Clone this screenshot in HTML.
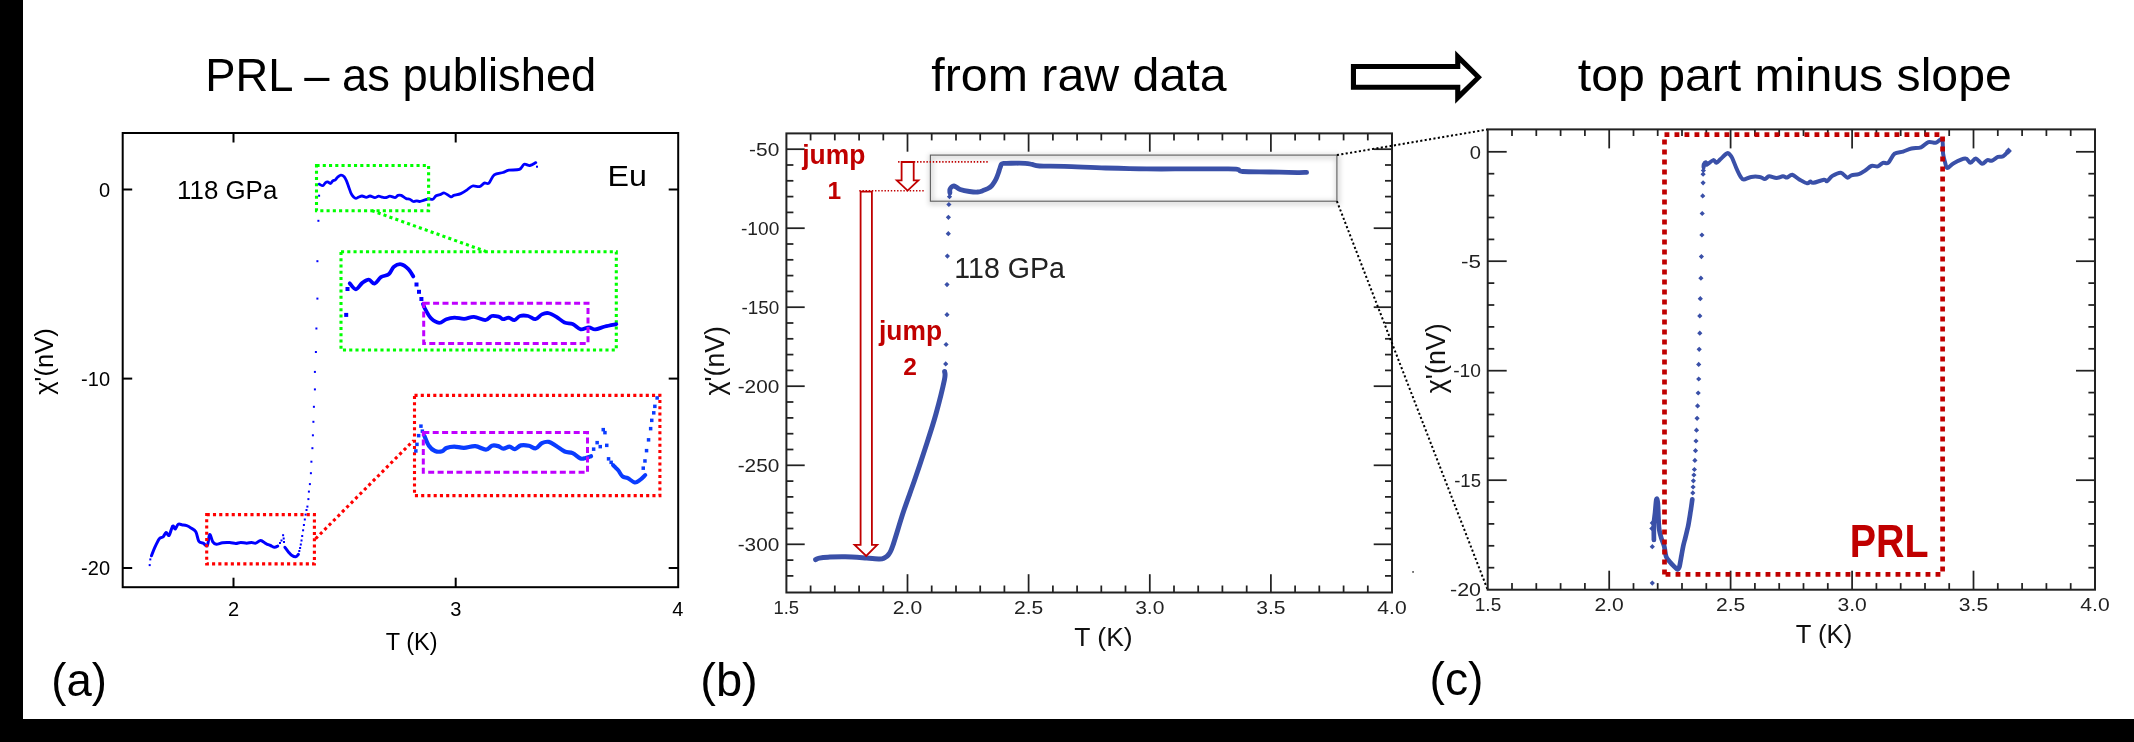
<!DOCTYPE html>
<html><head><meta charset="utf-8"><title>figure</title>
<style>html,body{margin:0;padding:0;background:#fff;}body{width:2134px;height:742px;overflow:hidden;font-family:"Liberation Sans",sans-serif;}svg{display:block;will-change:transform;}</style>
</head><body>
<svg width="2134" height="742" viewBox="0 0 2134 742" font-family="Liberation Sans, sans-serif">
<rect x="0" y="0" width="2134" height="742" fill="#fff"/>
<rect x="0" y="0" width="23" height="742" fill="#000"/>
<rect x="0" y="719" width="2134" height="23" fill="#000"/>
<text x="205.3" y="90.8" font-size="45.3" text-anchor="start" fill="#000" font-weight="normal" textLength="391.0" lengthAdjust="spacingAndGlyphs" >PRL – as published</text>
<text x="931.3" y="90.8" font-size="45.3" text-anchor="start" fill="#000" font-weight="normal" textLength="295.3" lengthAdjust="spacingAndGlyphs" >from raw data</text>
<text x="1577.8" y="91.0" font-size="45.3" text-anchor="start" fill="#000" font-weight="normal" textLength="434.0" lengthAdjust="spacingAndGlyphs" >top part minus slope</text>
<path d="M1350.9,64.05 H1455.2 V50.6 L1482,77.15 L1455.2,103.7 V89.7 H1350.9 Z" fill="#000"/>
<path d="M1356,69.1 H1460.3 V62.8 L1475.1,77.15 L1460.3,91.5 V84.7 H1356 Z" fill="#fff"/>
<text x="51.3" y="695.6" font-size="47" text-anchor="start" fill="#000" font-weight="normal" textLength="55.6" lengthAdjust="spacingAndGlyphs" >(a)</text>
<text x="700.3" y="695.6" font-size="47" text-anchor="start" fill="#000" font-weight="normal" textLength="57.5" lengthAdjust="spacingAndGlyphs" >(b)</text>
<text x="1429.5" y="695.3" font-size="47" text-anchor="start" fill="#000" font-weight="normal" textLength="54.0" lengthAdjust="spacingAndGlyphs" >(c)</text>
<rect x="122.7" y="133.0" width="555.5" height="454.2" fill="none" stroke="#000" stroke-width="2"/>
<line x1="233.5" y1="587.2" x2="233.5" y2="577.7" stroke="#000" stroke-width="2" />
<line x1="233.5" y1="133.0" x2="233.5" y2="142.5" stroke="#000" stroke-width="2" />
<line x1="455.7" y1="587.2" x2="455.7" y2="577.7" stroke="#000" stroke-width="2" />
<line x1="455.7" y1="133.0" x2="455.7" y2="142.5" stroke="#000" stroke-width="2" />
<line x1="122.7" y1="189.5" x2="132.2" y2="189.5" stroke="#000" stroke-width="2" />
<line x1="678.2" y1="189.5" x2="668.7" y2="189.5" stroke="#000" stroke-width="2" />
<line x1="122.7" y1="378.6" x2="132.2" y2="378.6" stroke="#000" stroke-width="2" />
<line x1="678.2" y1="378.6" x2="668.7" y2="378.6" stroke="#000" stroke-width="2" />
<line x1="122.7" y1="568.0" x2="132.2" y2="568.0" stroke="#000" stroke-width="2" />
<line x1="678.2" y1="568.0" x2="668.7" y2="568.0" stroke="#000" stroke-width="2" />
<text x="110.0" y="196.7" font-size="20" text-anchor="end" fill="#000" font-weight="normal" >0</text>
<text x="110.0" y="385.8" font-size="20" text-anchor="end" fill="#000" font-weight="normal" >-10</text>
<text x="110.0" y="575.2" font-size="20" text-anchor="end" fill="#000" font-weight="normal" >-20</text>
<text x="233.5" y="615.5" font-size="20" text-anchor="middle" fill="#000" font-weight="normal" >2</text>
<text x="455.7" y="615.5" font-size="20" text-anchor="middle" fill="#000" font-weight="normal" >3</text>
<text x="677.7" y="615.5" font-size="20" text-anchor="middle" fill="#000" font-weight="normal" >4</text>
<text x="411.6" y="650.4" font-size="23.5" text-anchor="middle" fill="#000" font-weight="normal" >T (K)</text>
<text transform="translate(53.2,394.8) rotate(-90)" font-size="25" textLength="66.5" lengthAdjust="spacingAndGlyphs">χ'(nV)</text>
<text x="177.0" y="199.3" font-size="25.3" text-anchor="start" fill="#000" font-weight="normal" textLength="100.3" lengthAdjust="spacingAndGlyphs" >118 GPa</text>
<text x="607.6" y="185.8" font-size="29.4" text-anchor="start" fill="#000" font-weight="normal" textLength="39.4" lengthAdjust="spacingAndGlyphs" >Eu</text>
<path d="M151.5,555.8C152.0,554.5 153.3,550.8 154.6,547.9C155.9,545.0 158.0,540.4 159.4,538.6C160.8,536.8 161.9,538.0 163.0,537.0C164.1,536.0 165.1,532.8 166.1,532.5C167.1,532.2 168.0,536.5 169.1,535.4C170.2,534.3 171.7,527.1 172.7,526.1C173.7,525.1 174.3,529.4 175.2,529.1C176.1,528.8 177.0,525.0 178.2,524.3C179.4,523.6 181.0,524.7 182.4,524.9C183.8,525.1 185.3,525.2 186.7,525.7C188.1,526.2 189.4,526.9 190.9,527.9C192.4,528.9 194.5,529.6 195.8,531.8C197.1,534.0 197.6,539.3 198.8,541.2C200.0,543.1 201.7,542.4 203.1,543.1C204.5,543.8 206.2,546.9 207.3,545.5C208.4,544.1 208.8,535.2 209.7,534.6C210.6,534.0 211.7,540.2 212.8,541.8C213.9,543.4 214.8,544.1 216.4,544.3C218.0,544.4 220.3,543.0 222.5,542.7C224.7,542.4 227.5,542.4 229.7,542.5C231.9,542.6 234.0,543.4 235.8,543.4C237.6,543.4 238.9,542.5 240.7,542.5C242.5,542.5 244.9,543.2 246.7,543.2C248.5,543.2 250.1,542.5 251.6,542.5C253.1,542.5 254.3,543.5 255.8,543.1C257.3,542.8 259.0,540.3 260.7,540.4C262.4,540.5 264.5,542.9 266.1,543.7C267.7,544.6 269.0,544.9 270.4,545.5C271.8,546.1 273.4,547.2 274.6,547.3C275.8,547.4 277.2,546.3 277.7,546.1" fill="none" stroke="#0000ff" stroke-width="3.0" stroke-linejoin="round" stroke-linecap="round" />
<rect x="148.7" y="564.1" width="2" height="2" fill="#0000ff"/>
<rect x="149.3" y="558.4" width="2" height="2" fill="#0000ff"/>
<rect x="279.0" y="542.0" width="2" height="2" fill="#0000ff"/>
<rect x="280.5" y="539.5" width="2" height="2" fill="#0000ff"/>
<rect x="282.1" y="534.2" width="2" height="2" fill="#0000ff"/>
<rect x="282.7" y="537.5" width="2" height="2" fill="#0000ff"/>
<rect x="283.0" y="541.0" width="2" height="2" fill="#0000ff"/>
<path d="M284.9,547.3C285.5,548.1 287.5,550.9 288.6,552.2C289.7,553.5 290.4,554.4 291.6,555.2C292.8,556.0 294.7,556.9 295.8,556.8C296.9,556.7 298.0,554.8 298.4,554.4" fill="none" stroke="#0000ff" stroke-width="3.0" stroke-linejoin="round" stroke-linecap="round" />
<rect x="298.3" y="550.0" width="2" height="2" fill="#0000ff"/>
<rect x="299.1" y="547.0" width="2" height="2" fill="#0000ff"/>
<rect x="299.8" y="543.5" width="2" height="2" fill="#0000ff"/>
<rect x="300.5" y="539.5" width="2" height="2" fill="#0000ff"/>
<rect x="301.2" y="535.0" width="2" height="2" fill="#0000ff"/>
<rect x="302.1" y="529.3" width="2" height="2" fill="#0000ff"/>
<rect x="302.9" y="524.0" width="2" height="2" fill="#0000ff"/>
<rect x="303.8" y="518.5" width="2" height="2" fill="#0000ff"/>
<rect x="304.6" y="513.6" width="2" height="2" fill="#0000ff"/>
<rect x="305.5" y="509.0" width="2" height="2" fill="#0000ff"/>
<rect x="306.4" y="505.6" width="2" height="2" fill="#0000ff"/>
<rect x="307.4" y="498.1" width="2" height="2" fill="#0000ff"/>
<rect x="307.9" y="490.6" width="2" height="2" fill="#0000ff"/>
<rect x="308.9" y="483.1" width="2" height="2" fill="#0000ff"/>
<rect x="309.9" y="472.2" width="2" height="2" fill="#0000ff"/>
<rect x="310.4" y="460.7" width="2" height="2" fill="#0000ff"/>
<rect x="311.4" y="447.2" width="2" height="2" fill="#0000ff"/>
<rect x="311.9" y="434.3" width="2" height="2" fill="#0000ff"/>
<rect x="312.4" y="420.8" width="2" height="2" fill="#0000ff"/>
<rect x="312.9" y="405.8" width="2" height="2" fill="#0000ff"/>
<rect x="313.9" y="388.4" width="2" height="2" fill="#0000ff"/>
<rect x="313.9" y="370.9" width="2" height="2" fill="#0000ff"/>
<rect x="314.9" y="351.0" width="2" height="2" fill="#0000ff"/>
<rect x="315.4" y="327.5" width="2" height="2" fill="#0000ff"/>
<rect x="316.4" y="297.6" width="2" height="2" fill="#0000ff"/>
<rect x="316.4" y="260.2" width="2" height="2" fill="#0000ff"/>
<rect x="317.4" y="219.8" width="2" height="2" fill="#0000ff"/>
<rect x="318.1" y="194.7" width="2" height="2" fill="#0000ff"/>
<path d="M319.2,184.2C319.8,184.4 321.9,185.9 322.9,185.7C323.9,185.5 324.5,183.4 325.3,182.8C326.1,182.2 326.7,181.8 327.6,181.9C328.5,182.0 329.6,183.7 330.5,183.5C331.4,183.3 332.0,181.5 332.8,180.9C333.6,180.3 334.4,180.6 335.2,180.0C336.0,179.4 336.6,178.0 337.5,177.2C338.4,176.4 339.7,175.2 340.8,175.1C341.9,175.0 343.2,175.7 344.2,176.7C345.1,177.7 345.7,179.1 346.5,180.9C347.3,182.7 348.1,185.4 348.9,187.5C349.7,189.6 350.4,192.1 351.2,193.7C352.0,195.3 352.8,196.2 353.6,197.0C354.4,197.8 355.0,198.4 355.9,198.4C356.8,198.4 357.8,197.4 358.8,197.0C359.8,196.6 360.9,195.9 362.1,196.0C363.4,196.1 365.0,197.3 366.3,197.3C367.6,197.3 368.7,195.9 370.1,196.0C371.5,196.1 373.4,197.6 374.8,197.6C376.2,197.6 377.3,196.3 378.6,196.2C379.9,196.1 381.1,197.0 382.4,197.2C383.6,197.4 384.9,197.7 386.1,197.5C387.4,197.3 388.4,196.2 389.9,196.2C391.4,196.2 393.8,197.7 395.1,197.6C396.4,197.5 396.9,195.8 397.9,195.4C398.9,195.0 399.9,194.9 401.2,195.4C402.5,195.9 404.5,197.8 405.9,198.4C407.3,199.1 408.4,198.8 409.7,199.3C411.0,199.8 412.3,201.2 413.5,201.5C414.7,201.8 415.8,200.8 416.8,200.8C417.8,200.8 418.4,201.6 419.6,201.5C420.9,201.4 422.8,200.5 424.3,200.1C425.8,199.7 427.2,199.0 428.6,198.9C430.0,198.8 431.6,199.8 432.8,199.3C434.1,198.8 434.8,196.6 436.1,195.8C437.4,195.0 439.4,194.9 440.8,194.4C442.2,193.9 442.7,192.6 444.4,193.0C446.1,193.4 449.3,196.4 450.9,196.8C452.5,197.2 452.1,195.9 453.8,195.4C455.5,194.9 458.7,194.5 460.8,193.6C462.9,192.7 464.8,191.4 466.7,190.1C468.6,188.8 470.4,186.6 472.5,186.0C474.6,185.4 477.7,187.1 479.6,186.6C481.6,186.1 482.6,183.7 484.2,183.1C485.8,182.5 487.2,184.5 488.9,183.1C490.6,181.7 491.8,176.7 494.2,174.9C496.6,173.1 500.6,173.3 503.0,172.5C505.4,171.7 506.1,170.7 508.8,170.2C511.5,169.7 516.9,170.4 519.4,169.4C521.9,168.4 522.4,165.0 524.1,164.3C525.9,163.7 528.0,165.8 529.9,165.5C531.8,165.2 534.8,163.1 535.8,162.6" fill="none" stroke="#0000ff" stroke-width="2.8" stroke-linejoin="round" stroke-linecap="round" />
<rect x="536.0" y="165.7" width="2" height="2" fill="#0000ff"/>
<rect x="316.5" y="165.5" width="112.1" height="45.2" fill="none" stroke="#00ff00" stroke-width="3.1" stroke-dasharray="3.1 3.15"/>
<rect x="341.0" y="251.8" width="275.3" height="98.2" fill="none" stroke="#00ff00" stroke-width="3.1" stroke-dasharray="3.1 3.15"/>
<line x1="371.8" y1="210.6" x2="486.0" y2="251.5" stroke="#00ff00" stroke-width="3.1" stroke-dasharray="3.1 3.15"/>
<path d="M349.7,283.3C350.7,284.3 353.8,289.4 355.9,289.3C358.0,289.2 360.1,284.5 362.3,282.9C364.5,281.3 366.8,279.5 368.8,279.6C370.8,279.7 372.5,284.1 374.5,283.7C376.5,283.3 378.5,278.8 380.9,277.2C383.3,275.6 386.8,275.8 389.0,274.0C391.2,272.2 391.9,268.3 393.9,266.7C395.9,265.1 398.8,263.9 401.2,264.3C403.6,264.7 406.4,267.1 408.4,269.1C410.4,271.1 412.5,275.2 413.3,276.4" fill="none" stroke="#0000ff" stroke-width="3.8" stroke-linejoin="round" stroke-linecap="round" />
<rect x="345.5" y="287.0" width="4" height="4" fill="#0000ff"/>
<rect x="344.2" y="312.9" width="4" height="4" fill="#0000ff"/>
<rect x="414.5" y="282.5" width="4" height="4" fill="#0000ff"/>
<rect x="417.0" y="289.8" width="4" height="4" fill="#0000ff"/>
<rect x="419.4" y="297.0" width="4" height="4" fill="#0000ff"/>
<path d="M423.0,304.0C423.4,304.9 424.0,307.1 425.4,309.5C426.8,311.9 428.8,316.2 431.1,318.4C433.4,320.6 436.6,322.7 439.2,322.8C441.8,322.9 443.8,320.1 446.4,319.2C448.9,318.3 451.5,317.7 454.5,317.6C457.5,317.5 461.0,318.9 464.2,318.8C467.4,318.7 470.4,316.6 473.9,316.8C477.4,317.0 482.3,320.2 485.3,320.1C488.3,320.0 489.4,316.6 491.7,316.0C494.0,315.4 497.1,316.3 499.0,316.8C500.9,317.3 501.5,319.1 503.1,319.2C504.7,319.3 506.8,317.5 508.7,317.6C510.6,317.8 512.5,320.4 514.4,320.1C516.3,319.8 517.7,316.7 520.0,316.0C522.3,315.3 525.5,315.5 528.1,316.0C530.7,316.5 533.1,319.5 535.4,319.2C537.7,318.9 539.8,315.4 541.9,314.4C544.0,313.4 545.9,312.7 548.3,313.1C550.7,313.5 553.7,315.2 556.4,316.8C559.1,318.4 561.8,321.3 564.5,322.5C567.2,323.7 569.9,323.0 572.6,324.1C575.3,325.2 578.0,328.8 580.7,329.3C583.4,329.8 586.4,327.3 588.8,327.3C591.2,327.3 592.5,329.5 595.2,329.4C597.9,329.3 601.4,327.4 604.9,326.5C608.4,325.6 614.4,324.5 616.3,324.1" fill="none" stroke="#0000ff" stroke-width="3.8" stroke-linejoin="round" stroke-linecap="round" />
<rect x="423.7" y="303.2" width="164.3" height="40.2" fill="none" stroke="#bf00ff" stroke-width="3" stroke-dasharray="6 3.4"/>
<rect x="206.7" y="514.6" width="107.7" height="49.3" fill="none" stroke="#ff0000" stroke-width="3.1" stroke-dasharray="3.1 3.15"/>
<rect x="414.5" y="395.4" width="245.4" height="100.2" fill="none" stroke="#ff0000" stroke-width="3.1" stroke-dasharray="3.1 3.15"/>
<line x1="315.6" y1="538.7" x2="413.5" y2="440.5" stroke="#ff0000" stroke-width="3.1" stroke-dasharray="3.1 3.15"/>
<rect x="414.1" y="449.2" width="3.5" height="3.5" fill="#0a3cff"/>
<rect x="415.2" y="442.6" width="3.5" height="3.5" fill="#0a3cff"/>
<rect x="416.9" y="433.9" width="3.5" height="3.5" fill="#0a3cff"/>
<rect x="419.2" y="424.4" width="3.5" height="3.5" fill="#0a3cff"/>
<rect x="420.6" y="429.4" width="3.5" height="3.5" fill="#0a3cff"/>
<path d="M424.5,436.1C425.2,437.7 427.1,443.2 428.9,445.7C430.6,448.2 432.8,450.1 435.0,451.0C437.2,451.9 440.2,451.8 442.1,451.3C444.0,450.8 444.4,448.8 446.4,448.0C448.4,447.2 451.4,446.6 454.3,446.6C457.2,446.6 460.5,447.9 464.0,447.8C467.5,447.7 471.7,445.8 475.3,446.1C478.9,446.4 483.1,449.7 485.9,449.6C488.7,449.5 490.0,446.3 492.0,445.7C494.0,445.1 496.2,445.6 498.1,446.1C500.0,446.6 501.5,448.6 503.4,448.7C505.3,448.8 507.6,446.5 509.5,446.6C511.4,446.7 512.9,449.4 514.8,449.2C516.7,449.0 518.6,446.0 520.9,445.4C523.2,444.8 526.3,445.2 528.8,445.7C531.3,446.2 533.6,448.7 535.8,448.3C538.0,447.9 539.7,444.2 541.9,443.1C544.1,442.0 546.6,441.5 548.9,441.9C551.2,442.3 553.3,444.1 555.9,445.7C558.5,447.3 561.9,450.3 564.7,451.5C567.5,452.7 570.0,451.9 572.6,453.1C575.2,454.3 578.3,457.7 580.5,458.5C582.7,459.3 584.0,458.4 585.7,458.0C587.5,457.6 590.1,456.5 591.0,456.2" fill="none" stroke="#0a3cff" stroke-width="4.2" stroke-linejoin="round" stroke-linecap="round" />
<rect x="591.9" y="447.4" width="3.5" height="3.5" fill="#0a3cff"/>
<rect x="595.4" y="440.9" width="3.5" height="3.5" fill="#0a3cff"/>
<rect x="598.5" y="444.9" width="3.5" height="3.5" fill="#0a3cff"/>
<rect x="601.5" y="427.9" width="3.5" height="3.5" fill="#0a3cff"/>
<rect x="603.2" y="430.9" width="3.5" height="3.5" fill="#0a3cff"/>
<rect x="605.0" y="443.6" width="3.5" height="3.5" fill="#0a3cff"/>
<rect x="606.8" y="457.1" width="3.5" height="3.5" fill="#0a3cff"/>
<rect x="609.4" y="460.6" width="3.5" height="3.5" fill="#0a3cff"/>
<path d="M613.0,465.0C613.3,465.3 613.7,465.8 614.6,466.7C615.5,467.6 616.9,468.6 618.2,470.2C619.5,471.8 620.9,475.1 622.5,476.4C624.1,477.7 625.8,477.1 627.8,478.1C629.8,479.1 632.8,482.2 634.8,482.5C636.8,482.8 638.4,481.1 640.1,479.9C641.9,478.7 644.4,475.9 645.3,475.1" fill="none" stroke="#0a3cff" stroke-width="4" stroke-linejoin="round" stroke-linecap="round" />
<rect x="641.5" y="466.4" width="3.5" height="3.5" fill="#0a3cff"/>
<rect x="643.2" y="459.2" width="3.5" height="3.5" fill="#0a3cff"/>
<rect x="644.8" y="448.9" width="3.5" height="3.5" fill="#0a3cff"/>
<rect x="646.8" y="438.1" width="3.5" height="3.5" fill="#0a3cff"/>
<rect x="648.9" y="426.9" width="3.5" height="3.5" fill="#0a3cff"/>
<rect x="650.0" y="418.6" width="3.5" height="3.5" fill="#0a3cff"/>
<rect x="652.0" y="411.1" width="3.5" height="3.5" fill="#0a3cff"/>
<rect x="653.1" y="404.6" width="3.5" height="3.5" fill="#0a3cff"/>
<rect x="655.4" y="396.2" width="3.5" height="3.5" fill="#0a3cff"/>
<rect x="423.3" y="432.6" width="164.2" height="39.7" fill="none" stroke="#bf00ff" stroke-width="3" stroke-dasharray="6 3.4"/>
<rect x="786.4" y="133.4" width="605.6" height="459.1" fill="none" stroke="#222" stroke-width="2"/>
<line x1="810.6" y1="592.5" x2="810.6" y2="585.5" stroke="#222" stroke-width="1.75" />
<line x1="810.6" y1="133.4" x2="810.6" y2="140.4" stroke="#222" stroke-width="1.75" />
<line x1="834.8" y1="592.5" x2="834.8" y2="585.5" stroke="#222" stroke-width="1.75" />
<line x1="834.8" y1="133.4" x2="834.8" y2="140.4" stroke="#222" stroke-width="1.75" />
<line x1="859.1" y1="592.5" x2="859.1" y2="585.5" stroke="#222" stroke-width="1.75" />
<line x1="859.1" y1="133.4" x2="859.1" y2="140.4" stroke="#222" stroke-width="1.75" />
<line x1="883.3" y1="592.5" x2="883.3" y2="585.5" stroke="#222" stroke-width="1.75" />
<line x1="883.3" y1="133.4" x2="883.3" y2="140.4" stroke="#222" stroke-width="1.75" />
<line x1="907.5" y1="592.5" x2="907.5" y2="574.2" stroke="#222" stroke-width="1.75" />
<line x1="907.5" y1="133.4" x2="907.5" y2="151.7" stroke="#222" stroke-width="1.75" />
<line x1="931.7" y1="592.5" x2="931.7" y2="585.5" stroke="#222" stroke-width="1.75" />
<line x1="931.7" y1="133.4" x2="931.7" y2="140.4" stroke="#222" stroke-width="1.75" />
<line x1="956.0" y1="592.5" x2="956.0" y2="585.5" stroke="#222" stroke-width="1.75" />
<line x1="956.0" y1="133.4" x2="956.0" y2="140.4" stroke="#222" stroke-width="1.75" />
<line x1="980.2" y1="592.5" x2="980.2" y2="585.5" stroke="#222" stroke-width="1.75" />
<line x1="980.2" y1="133.4" x2="980.2" y2="140.4" stroke="#222" stroke-width="1.75" />
<line x1="1004.4" y1="592.5" x2="1004.4" y2="585.5" stroke="#222" stroke-width="1.75" />
<line x1="1004.4" y1="133.4" x2="1004.4" y2="140.4" stroke="#222" stroke-width="1.75" />
<line x1="1028.6" y1="592.5" x2="1028.6" y2="574.2" stroke="#222" stroke-width="1.75" />
<line x1="1028.6" y1="133.4" x2="1028.6" y2="151.7" stroke="#222" stroke-width="1.75" />
<line x1="1052.9" y1="592.5" x2="1052.9" y2="585.5" stroke="#222" stroke-width="1.75" />
<line x1="1052.9" y1="133.4" x2="1052.9" y2="140.4" stroke="#222" stroke-width="1.75" />
<line x1="1077.1" y1="592.5" x2="1077.1" y2="585.5" stroke="#222" stroke-width="1.75" />
<line x1="1077.1" y1="133.4" x2="1077.1" y2="140.4" stroke="#222" stroke-width="1.75" />
<line x1="1101.3" y1="592.5" x2="1101.3" y2="585.5" stroke="#222" stroke-width="1.75" />
<line x1="1101.3" y1="133.4" x2="1101.3" y2="140.4" stroke="#222" stroke-width="1.75" />
<line x1="1125.5" y1="592.5" x2="1125.5" y2="585.5" stroke="#222" stroke-width="1.75" />
<line x1="1125.5" y1="133.4" x2="1125.5" y2="140.4" stroke="#222" stroke-width="1.75" />
<line x1="1149.8" y1="592.5" x2="1149.8" y2="574.2" stroke="#222" stroke-width="1.75" />
<line x1="1149.8" y1="133.4" x2="1149.8" y2="151.7" stroke="#222" stroke-width="1.75" />
<line x1="1174.0" y1="592.5" x2="1174.0" y2="585.5" stroke="#222" stroke-width="1.75" />
<line x1="1174.0" y1="133.4" x2="1174.0" y2="140.4" stroke="#222" stroke-width="1.75" />
<line x1="1198.2" y1="592.5" x2="1198.2" y2="585.5" stroke="#222" stroke-width="1.75" />
<line x1="1198.2" y1="133.4" x2="1198.2" y2="140.4" stroke="#222" stroke-width="1.75" />
<line x1="1222.4" y1="592.5" x2="1222.4" y2="585.5" stroke="#222" stroke-width="1.75" />
<line x1="1222.4" y1="133.4" x2="1222.4" y2="140.4" stroke="#222" stroke-width="1.75" />
<line x1="1246.7" y1="592.5" x2="1246.7" y2="585.5" stroke="#222" stroke-width="1.75" />
<line x1="1246.7" y1="133.4" x2="1246.7" y2="140.4" stroke="#222" stroke-width="1.75" />
<line x1="1270.9" y1="592.5" x2="1270.9" y2="574.2" stroke="#222" stroke-width="1.75" />
<line x1="1270.9" y1="133.4" x2="1270.9" y2="151.7" stroke="#222" stroke-width="1.75" />
<line x1="1295.1" y1="592.5" x2="1295.1" y2="585.5" stroke="#222" stroke-width="1.75" />
<line x1="1295.1" y1="133.4" x2="1295.1" y2="140.4" stroke="#222" stroke-width="1.75" />
<line x1="1319.3" y1="592.5" x2="1319.3" y2="585.5" stroke="#222" stroke-width="1.75" />
<line x1="1319.3" y1="133.4" x2="1319.3" y2="140.4" stroke="#222" stroke-width="1.75" />
<line x1="1343.6" y1="592.5" x2="1343.6" y2="585.5" stroke="#222" stroke-width="1.75" />
<line x1="1343.6" y1="133.4" x2="1343.6" y2="140.4" stroke="#222" stroke-width="1.75" />
<line x1="1367.8" y1="592.5" x2="1367.8" y2="585.5" stroke="#222" stroke-width="1.75" />
<line x1="1367.8" y1="133.4" x2="1367.8" y2="140.4" stroke="#222" stroke-width="1.75" />
<line x1="786.4" y1="575.9" x2="793.4" y2="575.9" stroke="#222" stroke-width="1.75" />
<line x1="1392.0" y1="575.9" x2="1385.0" y2="575.9" stroke="#222" stroke-width="1.75" />
<line x1="786.4" y1="560.1" x2="793.4" y2="560.1" stroke="#222" stroke-width="1.75" />
<line x1="1392.0" y1="560.1" x2="1385.0" y2="560.1" stroke="#222" stroke-width="1.75" />
<line x1="786.4" y1="544.3" x2="804.7" y2="544.3" stroke="#222" stroke-width="1.75" />
<line x1="1392.0" y1="544.3" x2="1373.7" y2="544.3" stroke="#222" stroke-width="1.75" />
<line x1="786.4" y1="528.5" x2="793.4" y2="528.5" stroke="#222" stroke-width="1.75" />
<line x1="1392.0" y1="528.5" x2="1385.0" y2="528.5" stroke="#222" stroke-width="1.75" />
<line x1="786.4" y1="512.7" x2="793.4" y2="512.7" stroke="#222" stroke-width="1.75" />
<line x1="1392.0" y1="512.7" x2="1385.0" y2="512.7" stroke="#222" stroke-width="1.75" />
<line x1="786.4" y1="496.9" x2="793.4" y2="496.9" stroke="#222" stroke-width="1.75" />
<line x1="1392.0" y1="496.9" x2="1385.0" y2="496.9" stroke="#222" stroke-width="1.75" />
<line x1="786.4" y1="481.1" x2="793.4" y2="481.1" stroke="#222" stroke-width="1.75" />
<line x1="1392.0" y1="481.1" x2="1385.0" y2="481.1" stroke="#222" stroke-width="1.75" />
<line x1="786.4" y1="465.3" x2="804.7" y2="465.3" stroke="#222" stroke-width="1.75" />
<line x1="1392.0" y1="465.3" x2="1373.7" y2="465.3" stroke="#222" stroke-width="1.75" />
<line x1="786.4" y1="449.5" x2="793.4" y2="449.5" stroke="#222" stroke-width="1.75" />
<line x1="1392.0" y1="449.5" x2="1385.0" y2="449.5" stroke="#222" stroke-width="1.75" />
<line x1="786.4" y1="433.7" x2="793.4" y2="433.7" stroke="#222" stroke-width="1.75" />
<line x1="1392.0" y1="433.7" x2="1385.0" y2="433.7" stroke="#222" stroke-width="1.75" />
<line x1="786.4" y1="417.9" x2="793.4" y2="417.9" stroke="#222" stroke-width="1.75" />
<line x1="1392.0" y1="417.9" x2="1385.0" y2="417.9" stroke="#222" stroke-width="1.75" />
<line x1="786.4" y1="402.0" x2="793.4" y2="402.0" stroke="#222" stroke-width="1.75" />
<line x1="1392.0" y1="402.0" x2="1385.0" y2="402.0" stroke="#222" stroke-width="1.75" />
<line x1="786.4" y1="386.2" x2="804.7" y2="386.2" stroke="#222" stroke-width="1.75" />
<line x1="1392.0" y1="386.2" x2="1373.7" y2="386.2" stroke="#222" stroke-width="1.75" />
<line x1="786.4" y1="370.4" x2="793.4" y2="370.4" stroke="#222" stroke-width="1.75" />
<line x1="1392.0" y1="370.4" x2="1385.0" y2="370.4" stroke="#222" stroke-width="1.75" />
<line x1="786.4" y1="354.6" x2="793.4" y2="354.6" stroke="#222" stroke-width="1.75" />
<line x1="1392.0" y1="354.6" x2="1385.0" y2="354.6" stroke="#222" stroke-width="1.75" />
<line x1="786.4" y1="338.8" x2="793.4" y2="338.8" stroke="#222" stroke-width="1.75" />
<line x1="1392.0" y1="338.8" x2="1385.0" y2="338.8" stroke="#222" stroke-width="1.75" />
<line x1="786.4" y1="323.0" x2="793.4" y2="323.0" stroke="#222" stroke-width="1.75" />
<line x1="1392.0" y1="323.0" x2="1385.0" y2="323.0" stroke="#222" stroke-width="1.75" />
<line x1="786.4" y1="307.2" x2="804.7" y2="307.2" stroke="#222" stroke-width="1.75" />
<line x1="1392.0" y1="307.2" x2="1373.7" y2="307.2" stroke="#222" stroke-width="1.75" />
<line x1="786.4" y1="291.4" x2="793.4" y2="291.4" stroke="#222" stroke-width="1.75" />
<line x1="1392.0" y1="291.4" x2="1385.0" y2="291.4" stroke="#222" stroke-width="1.75" />
<line x1="786.4" y1="275.6" x2="793.4" y2="275.6" stroke="#222" stroke-width="1.75" />
<line x1="1392.0" y1="275.6" x2="1385.0" y2="275.6" stroke="#222" stroke-width="1.75" />
<line x1="786.4" y1="259.8" x2="793.4" y2="259.8" stroke="#222" stroke-width="1.75" />
<line x1="1392.0" y1="259.8" x2="1385.0" y2="259.8" stroke="#222" stroke-width="1.75" />
<line x1="786.4" y1="244.0" x2="793.4" y2="244.0" stroke="#222" stroke-width="1.75" />
<line x1="1392.0" y1="244.0" x2="1385.0" y2="244.0" stroke="#222" stroke-width="1.75" />
<line x1="786.4" y1="228.2" x2="804.7" y2="228.2" stroke="#222" stroke-width="1.75" />
<line x1="1392.0" y1="228.2" x2="1373.7" y2="228.2" stroke="#222" stroke-width="1.75" />
<line x1="786.4" y1="212.4" x2="793.4" y2="212.4" stroke="#222" stroke-width="1.75" />
<line x1="1392.0" y1="212.4" x2="1385.0" y2="212.4" stroke="#222" stroke-width="1.75" />
<line x1="786.4" y1="196.6" x2="793.4" y2="196.6" stroke="#222" stroke-width="1.75" />
<line x1="1392.0" y1="196.6" x2="1385.0" y2="196.6" stroke="#222" stroke-width="1.75" />
<line x1="786.4" y1="180.8" x2="793.4" y2="180.8" stroke="#222" stroke-width="1.75" />
<line x1="1392.0" y1="180.8" x2="1385.0" y2="180.8" stroke="#222" stroke-width="1.75" />
<line x1="786.4" y1="165.0" x2="793.4" y2="165.0" stroke="#222" stroke-width="1.75" />
<line x1="1392.0" y1="165.0" x2="1385.0" y2="165.0" stroke="#222" stroke-width="1.75" />
<line x1="786.4" y1="149.2" x2="804.7" y2="149.2" stroke="#222" stroke-width="1.75" />
<line x1="1392.0" y1="149.2" x2="1373.7" y2="149.2" stroke="#222" stroke-width="1.75" />
<text x="779.3" y="155.9" font-size="18.5" text-anchor="end" fill="#222" font-weight="normal" textLength="30.2" lengthAdjust="spacingAndGlyphs" >-50</text>
<text x="779.3" y="234.9" font-size="18.5" text-anchor="end" fill="#222" font-weight="normal" textLength="38.3" lengthAdjust="spacingAndGlyphs" >-100</text>
<text x="779.3" y="313.9" font-size="18.5" text-anchor="end" fill="#222" font-weight="normal" textLength="37.8" lengthAdjust="spacingAndGlyphs" >-150</text>
<text x="779.3" y="392.9" font-size="18.5" text-anchor="end" fill="#222" font-weight="normal" textLength="41.6" lengthAdjust="spacingAndGlyphs" >-200</text>
<text x="779.3" y="472.0" font-size="18.5" text-anchor="end" fill="#222" font-weight="normal" textLength="41.6" lengthAdjust="spacingAndGlyphs" >-250</text>
<text x="779.3" y="551.0" font-size="18.5" text-anchor="end" fill="#222" font-weight="normal" textLength="41.6" lengthAdjust="spacingAndGlyphs" >-300</text>
<text x="786.2" y="613.6" font-size="18.6" text-anchor="middle" fill="#222" font-weight="normal" textLength="25.6" lengthAdjust="spacingAndGlyphs" >1.5</text>
<text x="907.5" y="613.6" font-size="18.6" text-anchor="middle" fill="#222" font-weight="normal" textLength="29.3" lengthAdjust="spacingAndGlyphs" >2.0</text>
<text x="1028.6" y="613.6" font-size="18.6" text-anchor="middle" fill="#222" font-weight="normal" textLength="29.3" lengthAdjust="spacingAndGlyphs" >2.5</text>
<text x="1149.8" y="613.6" font-size="18.6" text-anchor="middle" fill="#222" font-weight="normal" textLength="29.3" lengthAdjust="spacingAndGlyphs" >3.0</text>
<text x="1270.9" y="613.6" font-size="18.6" text-anchor="middle" fill="#222" font-weight="normal" textLength="29.3" lengthAdjust="spacingAndGlyphs" >3.5</text>
<text x="1392.0" y="613.6" font-size="18.6" text-anchor="middle" fill="#222" font-weight="normal" textLength="29.3" lengthAdjust="spacingAndGlyphs" >4.0</text>
<text x="1103.5" y="646.3" font-size="26.5" text-anchor="middle" fill="#111" font-weight="normal" >T (K)</text>
<text transform="translate(723.5,395.6) rotate(-90)" font-size="27.5" fill="#111" textLength="69.5" lengthAdjust="spacingAndGlyphs">χ'(nV)</text>
<defs><filter id="sh" x="-5%" y="-40%" width="110%" height="180%"><feGaussianBlur stdDeviation="2.5"/></filter></defs>
<rect x="931.2" y="156.6" width="406.5" height="46.1" fill="none" stroke="#000" stroke-width="5" opacity="0.14" filter="url(#sh)"/>
<rect x="930.4" y="155.1" width="406.5" height="46.1" fill="none" stroke="#5e5e5e" stroke-width="1.1"/>
<path d="M949.9,193.0C949.9,192.4 949.6,190.5 949.9,189.5C950.2,188.5 950.8,187.6 951.5,187.0C952.2,186.4 953.1,185.9 954.0,186.0C954.9,186.1 956.0,187.0 957.0,187.6C958.0,188.2 958.1,188.8 960.2,189.5C962.3,190.2 966.6,191.1 969.5,191.5C972.4,191.9 975.5,192.2 977.7,192.0C980.0,191.8 981.3,191.2 983.0,190.6C984.7,190.0 986.6,189.3 988.0,188.5C989.4,187.7 990.5,187.0 991.5,186.0C992.5,185.0 993.4,183.6 994.2,182.3C995.0,181.0 995.8,179.6 996.5,178.0C997.2,176.4 997.8,174.7 998.4,173.0C999.0,171.3 999.5,169.4 1000.0,168.0C1000.5,166.6 1000.8,165.1 1001.4,164.3C1002.0,163.5 1002.6,163.6 1003.5,163.4C1004.4,163.2 1003.0,163.3 1006.6,163.3C1010.2,163.3 1021.0,163.1 1025.2,163.3C1029.4,163.5 1029.6,164.0 1032.0,164.4C1034.4,164.8 1034.2,165.7 1039.6,166.0C1045.0,166.3 1053.3,166.1 1064.3,166.4C1075.3,166.7 1091.8,167.6 1105.6,168.0C1119.3,168.4 1133.1,168.8 1146.8,168.9C1160.5,169.1 1175.3,168.9 1188.0,168.9C1200.7,168.9 1214.8,168.8 1223.1,168.9C1231.3,169.0 1234.2,168.9 1237.5,169.3C1240.8,169.7 1237.2,171.1 1242.7,171.5C1248.2,171.9 1261.4,171.8 1270.5,172.0C1279.6,172.2 1291.3,172.5 1297.3,172.6C1303.3,172.7 1305.0,172.4 1306.6,172.4" fill="none" stroke="#3a50a8" stroke-width="4.8" stroke-linejoin="round" stroke-linecap="round" />
<path d="M949.5,194.1l2.6,2.6l-2.6,2.6l-2.6,-2.6zM948.9,201.9l2.6,2.6l-2.6,2.6l-2.6,-2.6zM948.4,214.7l2.6,2.6l-2.6,2.6l-2.6,-2.6zM948.3,231.1l2.6,2.6l-2.6,2.6l-2.6,-2.6zM947.4,253.5l2.6,2.6l-2.6,2.6l-2.6,-2.6zM947.0,282.0l2.6,2.6l-2.6,2.6l-2.6,-2.6zM947.0,312.1l2.6,2.6l-2.6,2.6l-2.6,-2.6zM946.1,341.9l2.6,2.6l-2.6,2.6l-2.6,-2.6zM945.7,361.3l2.6,2.6l-2.6,2.6l-2.6,-2.6z" fill="#3a50a8"/>
<path d="M944.6,371.5C944.6,372.9 945.9,372.8 944.4,380.0C942.9,387.2 939.0,403.0 935.8,414.5C932.6,426.0 928.6,437.9 925.0,449.0C921.4,460.1 917.8,470.9 914.2,481.3C910.6,491.7 907.1,500.7 903.5,511.5C899.9,522.3 895.2,538.8 892.7,546.0C890.2,553.2 889.8,552.7 888.4,554.7C887.0,556.7 886.0,557.1 884.5,557.8C883.0,558.5 882.7,559.0 879.7,559.0C876.8,559.0 872.5,558.5 866.8,558.1C861.0,557.7 851.7,556.9 845.2,556.8C838.7,556.6 832.3,557.0 828.0,557.2C823.7,557.4 821.5,557.7 819.4,558.1C817.3,558.5 816.2,559.4 815.6,559.6" fill="none" stroke="#3a50a8" stroke-width="5.0" stroke-linejoin="round" stroke-linecap="round" />
<line x1="898.1" y1="161.9" x2="988.7" y2="161.9" stroke="#c00000" stroke-width="1.6" stroke-dasharray="1.4 1.75"/>
<line x1="859.3" y1="190.8" x2="924.0" y2="190.8" stroke="#c00000" stroke-width="1.6" stroke-dasharray="1.4 1.75"/>
<path d="M901.6,162 H913.7 V180.3 H918.4 L907.6,190.6 L896.8,180.3 H901.6 Z" fill="#fff" stroke="#c00000" stroke-width="1.8" stroke-linejoin="miter"/>
<path d="M860.6,191.6 H871.9 V544.9 H877.2 L866.2,556 L854.6,544.9 H860.6 Z" fill="#fff" stroke="#c00000" stroke-width="1.8" stroke-linejoin="miter"/>
<text x="802.2" y="163.8" font-size="27.4" text-anchor="start" fill="#c00000" font-weight="bold" textLength="63.1" lengthAdjust="spacingAndGlyphs" >jump</text>
<text x="827.4" y="198.5" font-size="24.5" text-anchor="start" fill="#c00000" font-weight="bold" >1</text>
<text x="879.0" y="340.4" font-size="27.4" text-anchor="start" fill="#c00000" font-weight="bold" textLength="63.0" lengthAdjust="spacingAndGlyphs" >jump</text>
<text x="903.3" y="374.7" font-size="24.5" text-anchor="start" fill="#c00000" font-weight="bold" >2</text>
<text x="954.3" y="277.6" font-size="29.6" text-anchor="start" fill="#222" font-weight="normal" textLength="110.6" lengthAdjust="spacingAndGlyphs" >118 GPa</text>
<line x1="1336.9" y1="155.1" x2="1487.5" y2="129.5" stroke="#000" stroke-width="2.0" stroke-dasharray="2.1 2.35"/>
<line x1="1336.9" y1="201.2" x2="1487.5" y2="589.4" stroke="#000" stroke-width="2.0" stroke-dasharray="2.1 2.35"/>
<rect x="1412.3" y="571.2" width="1.5" height="1.5" fill="#222"/>
<rect x="1487.7" y="129.4" width="607.3" height="460.3" fill="none" stroke="#222" stroke-width="2"/>
<line x1="1512.0" y1="589.7" x2="1512.0" y2="583.1" stroke="#222" stroke-width="1.75" />
<line x1="1512.0" y1="129.4" x2="1512.0" y2="136.0" stroke="#222" stroke-width="1.75" />
<line x1="1536.3" y1="589.7" x2="1536.3" y2="583.1" stroke="#222" stroke-width="1.75" />
<line x1="1536.3" y1="129.4" x2="1536.3" y2="136.0" stroke="#222" stroke-width="1.75" />
<line x1="1560.6" y1="589.7" x2="1560.6" y2="583.1" stroke="#222" stroke-width="1.75" />
<line x1="1560.6" y1="129.4" x2="1560.6" y2="136.0" stroke="#222" stroke-width="1.75" />
<line x1="1584.9" y1="589.7" x2="1584.9" y2="583.1" stroke="#222" stroke-width="1.75" />
<line x1="1584.9" y1="129.4" x2="1584.9" y2="136.0" stroke="#222" stroke-width="1.75" />
<line x1="1609.2" y1="589.7" x2="1609.2" y2="570.7" stroke="#222" stroke-width="1.75" />
<line x1="1609.2" y1="129.4" x2="1609.2" y2="148.4" stroke="#222" stroke-width="1.75" />
<line x1="1633.5" y1="589.7" x2="1633.5" y2="583.1" stroke="#222" stroke-width="1.75" />
<line x1="1633.5" y1="129.4" x2="1633.5" y2="136.0" stroke="#222" stroke-width="1.75" />
<line x1="1657.7" y1="589.7" x2="1657.7" y2="583.1" stroke="#222" stroke-width="1.75" />
<line x1="1657.7" y1="129.4" x2="1657.7" y2="136.0" stroke="#222" stroke-width="1.75" />
<line x1="1682.0" y1="589.7" x2="1682.0" y2="583.1" stroke="#222" stroke-width="1.75" />
<line x1="1682.0" y1="129.4" x2="1682.0" y2="136.0" stroke="#222" stroke-width="1.75" />
<line x1="1706.3" y1="589.7" x2="1706.3" y2="583.1" stroke="#222" stroke-width="1.75" />
<line x1="1706.3" y1="129.4" x2="1706.3" y2="136.0" stroke="#222" stroke-width="1.75" />
<line x1="1730.6" y1="589.7" x2="1730.6" y2="570.7" stroke="#222" stroke-width="1.75" />
<line x1="1730.6" y1="129.4" x2="1730.6" y2="148.4" stroke="#222" stroke-width="1.75" />
<line x1="1754.9" y1="589.7" x2="1754.9" y2="583.1" stroke="#222" stroke-width="1.75" />
<line x1="1754.9" y1="129.4" x2="1754.9" y2="136.0" stroke="#222" stroke-width="1.75" />
<line x1="1779.2" y1="589.7" x2="1779.2" y2="583.1" stroke="#222" stroke-width="1.75" />
<line x1="1779.2" y1="129.4" x2="1779.2" y2="136.0" stroke="#222" stroke-width="1.75" />
<line x1="1803.5" y1="589.7" x2="1803.5" y2="583.1" stroke="#222" stroke-width="1.75" />
<line x1="1803.5" y1="129.4" x2="1803.5" y2="136.0" stroke="#222" stroke-width="1.75" />
<line x1="1827.8" y1="589.7" x2="1827.8" y2="583.1" stroke="#222" stroke-width="1.75" />
<line x1="1827.8" y1="129.4" x2="1827.8" y2="136.0" stroke="#222" stroke-width="1.75" />
<line x1="1852.1" y1="589.7" x2="1852.1" y2="570.7" stroke="#222" stroke-width="1.75" />
<line x1="1852.1" y1="129.4" x2="1852.1" y2="148.4" stroke="#222" stroke-width="1.75" />
<line x1="1876.4" y1="589.7" x2="1876.4" y2="583.1" stroke="#222" stroke-width="1.75" />
<line x1="1876.4" y1="129.4" x2="1876.4" y2="136.0" stroke="#222" stroke-width="1.75" />
<line x1="1900.7" y1="589.7" x2="1900.7" y2="583.1" stroke="#222" stroke-width="1.75" />
<line x1="1900.7" y1="129.4" x2="1900.7" y2="136.0" stroke="#222" stroke-width="1.75" />
<line x1="1925.0" y1="589.7" x2="1925.0" y2="583.1" stroke="#222" stroke-width="1.75" />
<line x1="1925.0" y1="129.4" x2="1925.0" y2="136.0" stroke="#222" stroke-width="1.75" />
<line x1="1949.2" y1="589.7" x2="1949.2" y2="583.1" stroke="#222" stroke-width="1.75" />
<line x1="1949.2" y1="129.4" x2="1949.2" y2="136.0" stroke="#222" stroke-width="1.75" />
<line x1="1973.5" y1="589.7" x2="1973.5" y2="570.7" stroke="#222" stroke-width="1.75" />
<line x1="1973.5" y1="129.4" x2="1973.5" y2="148.4" stroke="#222" stroke-width="1.75" />
<line x1="1997.8" y1="589.7" x2="1997.8" y2="583.1" stroke="#222" stroke-width="1.75" />
<line x1="1997.8" y1="129.4" x2="1997.8" y2="136.0" stroke="#222" stroke-width="1.75" />
<line x1="2022.1" y1="589.7" x2="2022.1" y2="583.1" stroke="#222" stroke-width="1.75" />
<line x1="2022.1" y1="129.4" x2="2022.1" y2="136.0" stroke="#222" stroke-width="1.75" />
<line x1="2046.4" y1="589.7" x2="2046.4" y2="583.1" stroke="#222" stroke-width="1.75" />
<line x1="2046.4" y1="129.4" x2="2046.4" y2="136.0" stroke="#222" stroke-width="1.75" />
<line x1="2070.7" y1="589.7" x2="2070.7" y2="583.1" stroke="#222" stroke-width="1.75" />
<line x1="2070.7" y1="129.4" x2="2070.7" y2="136.0" stroke="#222" stroke-width="1.75" />
<line x1="1487.7" y1="567.7" x2="1494.3" y2="567.7" stroke="#222" stroke-width="1.75" />
<line x1="2095.0" y1="567.7" x2="2088.4" y2="567.7" stroke="#222" stroke-width="1.75" />
<line x1="1487.7" y1="545.8" x2="1494.3" y2="545.8" stroke="#222" stroke-width="1.75" />
<line x1="2095.0" y1="545.8" x2="2088.4" y2="545.8" stroke="#222" stroke-width="1.75" />
<line x1="1487.7" y1="523.9" x2="1494.3" y2="523.9" stroke="#222" stroke-width="1.75" />
<line x1="2095.0" y1="523.9" x2="2088.4" y2="523.9" stroke="#222" stroke-width="1.75" />
<line x1="1487.7" y1="502.0" x2="1494.3" y2="502.0" stroke="#222" stroke-width="1.75" />
<line x1="2095.0" y1="502.0" x2="2088.4" y2="502.0" stroke="#222" stroke-width="1.75" />
<line x1="1487.7" y1="480.2" x2="1506.7" y2="480.2" stroke="#222" stroke-width="1.75" />
<line x1="2095.0" y1="480.2" x2="2076.0" y2="480.2" stroke="#222" stroke-width="1.75" />
<line x1="1487.7" y1="458.3" x2="1494.3" y2="458.3" stroke="#222" stroke-width="1.75" />
<line x1="2095.0" y1="458.3" x2="2088.4" y2="458.3" stroke="#222" stroke-width="1.75" />
<line x1="1487.7" y1="436.4" x2="1494.3" y2="436.4" stroke="#222" stroke-width="1.75" />
<line x1="2095.0" y1="436.4" x2="2088.4" y2="436.4" stroke="#222" stroke-width="1.75" />
<line x1="1487.7" y1="414.5" x2="1494.3" y2="414.5" stroke="#222" stroke-width="1.75" />
<line x1="2095.0" y1="414.5" x2="2088.4" y2="414.5" stroke="#222" stroke-width="1.75" />
<line x1="1487.7" y1="392.6" x2="1494.3" y2="392.6" stroke="#222" stroke-width="1.75" />
<line x1="2095.0" y1="392.6" x2="2088.4" y2="392.6" stroke="#222" stroke-width="1.75" />
<line x1="1487.7" y1="370.7" x2="1506.7" y2="370.7" stroke="#222" stroke-width="1.75" />
<line x1="2095.0" y1="370.7" x2="2076.0" y2="370.7" stroke="#222" stroke-width="1.75" />
<line x1="1487.7" y1="348.8" x2="1494.3" y2="348.8" stroke="#222" stroke-width="1.75" />
<line x1="2095.0" y1="348.8" x2="2088.4" y2="348.8" stroke="#222" stroke-width="1.75" />
<line x1="1487.7" y1="326.9" x2="1494.3" y2="326.9" stroke="#222" stroke-width="1.75" />
<line x1="2095.0" y1="326.9" x2="2088.4" y2="326.9" stroke="#222" stroke-width="1.75" />
<line x1="1487.7" y1="305.0" x2="1494.3" y2="305.0" stroke="#222" stroke-width="1.75" />
<line x1="2095.0" y1="305.0" x2="2088.4" y2="305.0" stroke="#222" stroke-width="1.75" />
<line x1="1487.7" y1="283.1" x2="1494.3" y2="283.1" stroke="#222" stroke-width="1.75" />
<line x1="2095.0" y1="283.1" x2="2088.4" y2="283.1" stroke="#222" stroke-width="1.75" />
<line x1="1487.7" y1="261.2" x2="1506.7" y2="261.2" stroke="#222" stroke-width="1.75" />
<line x1="2095.0" y1="261.2" x2="2076.0" y2="261.2" stroke="#222" stroke-width="1.75" />
<line x1="1487.7" y1="239.4" x2="1494.3" y2="239.4" stroke="#222" stroke-width="1.75" />
<line x1="2095.0" y1="239.4" x2="2088.4" y2="239.4" stroke="#222" stroke-width="1.75" />
<line x1="1487.7" y1="217.5" x2="1494.3" y2="217.5" stroke="#222" stroke-width="1.75" />
<line x1="2095.0" y1="217.5" x2="2088.4" y2="217.5" stroke="#222" stroke-width="1.75" />
<line x1="1487.7" y1="195.6" x2="1494.3" y2="195.6" stroke="#222" stroke-width="1.75" />
<line x1="2095.0" y1="195.6" x2="2088.4" y2="195.6" stroke="#222" stroke-width="1.75" />
<line x1="1487.7" y1="173.7" x2="1494.3" y2="173.7" stroke="#222" stroke-width="1.75" />
<line x1="2095.0" y1="173.7" x2="2088.4" y2="173.7" stroke="#222" stroke-width="1.75" />
<line x1="1487.7" y1="151.8" x2="1506.7" y2="151.8" stroke="#222" stroke-width="1.75" />
<line x1="2095.0" y1="151.8" x2="2076.0" y2="151.8" stroke="#222" stroke-width="1.75" />
<text x="1481.0" y="158.5" font-size="18.6" text-anchor="end" fill="#222" font-weight="normal" textLength="11.2" lengthAdjust="spacingAndGlyphs" >0</text>
<text x="1481.0" y="267.9" font-size="18.6" text-anchor="end" fill="#222" font-weight="normal" textLength="20.0" lengthAdjust="spacingAndGlyphs" >-5</text>
<text x="1481.0" y="377.4" font-size="18.6" text-anchor="end" fill="#222" font-weight="normal" textLength="27.8" lengthAdjust="spacingAndGlyphs" >-10</text>
<text x="1481.0" y="486.9" font-size="18.6" text-anchor="end" fill="#222" font-weight="normal" textLength="26.8" lengthAdjust="spacingAndGlyphs" >-15</text>
<text x="1481.0" y="596.3" font-size="18.6" text-anchor="end" fill="#222" font-weight="normal" textLength="31.0" lengthAdjust="spacingAndGlyphs" >-20</text>
<text x="1488.0" y="611.2" font-size="18.6" text-anchor="middle" fill="#222" font-weight="normal" textLength="26.4" lengthAdjust="spacingAndGlyphs" >1.5</text>
<text x="1609.2" y="611.2" font-size="18.6" text-anchor="middle" fill="#222" font-weight="normal" textLength="29.3" lengthAdjust="spacingAndGlyphs" >2.0</text>
<text x="1730.6" y="611.2" font-size="18.6" text-anchor="middle" fill="#222" font-weight="normal" textLength="29.3" lengthAdjust="spacingAndGlyphs" >2.5</text>
<text x="1852.1" y="611.2" font-size="18.6" text-anchor="middle" fill="#222" font-weight="normal" textLength="29.3" lengthAdjust="spacingAndGlyphs" >3.0</text>
<text x="1973.5" y="611.2" font-size="18.6" text-anchor="middle" fill="#222" font-weight="normal" textLength="29.3" lengthAdjust="spacingAndGlyphs" >3.5</text>
<text x="2095.0" y="611.2" font-size="18.6" text-anchor="middle" fill="#222" font-weight="normal" textLength="29.3" lengthAdjust="spacingAndGlyphs" >4.0</text>
<text x="1824.0" y="643.3" font-size="25.6" text-anchor="middle" fill="#111" font-weight="normal" >T (K)</text>
<text transform="translate(1445.3,393.2) rotate(-90)" font-size="27.5" fill="#111" textLength="69.8" lengthAdjust="spacingAndGlyphs">χ'(nV)</text>
<path d="M1703.6,167.5C1703.6,167.0 1703.4,165.2 1703.8,164.3C1704.2,163.4 1705.4,162.1 1705.9,162.2C1706.4,162.3 1705.7,165.0 1706.9,164.7C1708.1,164.3 1711.7,160.4 1713.3,160.1C1714.9,159.8 1715.2,163.0 1716.4,162.8C1717.6,162.6 1718.8,160.6 1720.6,159.0C1722.4,157.4 1725.4,154.0 1727.0,153.3C1728.6,152.6 1729.1,154.0 1730.0,154.8C1730.9,155.6 1731.1,155.7 1732.2,158.0C1733.3,160.3 1735.1,165.3 1736.5,168.5C1737.9,171.7 1739.5,175.1 1740.7,176.9C1741.9,178.7 1742.0,179.5 1743.8,179.5C1745.5,179.5 1748.5,177.3 1751.2,176.9C1753.9,176.5 1757.4,176.6 1759.7,176.9C1762.0,177.2 1763.3,179.1 1764.9,179.0C1766.5,178.9 1767.2,176.5 1769.1,176.3C1771.0,176.1 1774.2,178.0 1776.5,178.0C1778.8,178.0 1781.1,176.4 1782.9,176.3C1784.7,176.2 1785.5,177.8 1787.1,177.6C1788.7,177.3 1790.2,174.5 1792.3,174.8C1794.4,175.2 1797.2,178.3 1799.7,179.7C1802.2,181.1 1805.3,183.0 1807.1,183.3C1808.9,183.6 1809.2,181.7 1810.3,181.6C1811.3,181.5 1811.1,183.1 1813.4,182.8C1815.7,182.5 1821.7,180.0 1824.0,179.7C1826.3,179.4 1825.7,181.8 1827.1,181.2C1828.5,180.6 1830.1,177.3 1832.4,175.9C1834.7,174.5 1838.3,172.4 1840.8,172.7C1843.3,173.0 1845.4,177.2 1847.2,177.6C1849.0,178.0 1849.5,175.9 1851.4,175.3C1853.3,174.7 1856.5,175.0 1858.8,174.2C1861.1,173.4 1863.0,172.0 1865.1,170.6C1867.2,169.2 1869.3,166.7 1871.4,166.0C1873.5,165.3 1875.9,166.9 1877.8,166.4C1879.7,165.9 1881.2,163.4 1883.0,162.8C1884.8,162.2 1886.4,164.3 1888.3,162.8C1890.2,161.3 1892.1,155.6 1894.6,153.7C1897.1,151.8 1900.3,152.5 1903.1,151.6C1905.9,150.7 1908.5,149.2 1911.5,148.5C1914.5,147.8 1918.2,148.5 1921.0,147.4C1923.8,146.3 1926.0,142.9 1928.4,142.1C1930.9,141.3 1933.4,143.2 1935.7,142.8C1938.0,142.4 1940.9,137.6 1942.1,139.4C1943.3,141.2 1942.6,149.9 1943.1,153.7C1943.6,157.5 1944.3,159.6 1945.0,162.0C1945.7,164.4 1945.8,167.9 1947.3,168.1C1948.8,168.3 1950.7,164.8 1953.7,163.2C1956.7,161.6 1962.5,158.7 1965.3,158.6C1968.1,158.5 1968.8,162.8 1970.5,162.8C1972.2,162.8 1973.9,158.4 1975.8,158.6C1977.7,158.8 1980.2,163.4 1982.1,163.7C1984.0,163.9 1985.8,160.6 1987.4,160.1C1989.0,159.6 1989.8,161.2 1991.6,160.7C1993.4,160.2 1996.1,157.6 1998.0,156.9C1999.9,156.2 2001.5,157.3 2003.2,156.3C2005.0,155.3 2007.6,151.9 2008.5,151.0" fill="none" stroke="#3a50a8" stroke-width="4.0" stroke-linejoin="round" stroke-linecap="round" />
<path d="M2008.5,147.6l3.4,3.4l-3.4,3.4l-3.4,-3.4z" fill="#3a50a8"/>
<path d="M1703.4,167.9l2.6,2.6l-2.6,2.6l-2.6,-2.6zM1703.1,171.6l2.6,2.6l-2.6,2.6l-2.6,-2.6zM1703.1,180.2l2.6,2.6l-2.6,2.6l-2.6,-2.6zM1702.7,193.3l2.6,2.6l-2.6,2.6l-2.6,-2.6zM1702.2,210.9l2.6,2.6l-2.6,2.6l-2.6,-2.6zM1701.9,232.4l2.6,2.6l-2.6,2.6l-2.6,-2.6zM1701.4,254.0l2.6,2.6l-2.6,2.6l-2.6,-2.6zM1700.9,275.6l2.6,2.6l-2.6,2.6l-2.6,-2.6zM1700.3,296.1l2.6,2.6l-2.6,2.6l-2.6,-2.6zM1699.8,313.3l2.6,2.6l-2.6,2.6l-2.6,-2.6zM1699.8,330.6l2.6,2.6l-2.6,2.6l-2.6,-2.6zM1699.2,346.7l2.6,2.6l-2.6,2.6l-2.6,-2.6zM1698.7,361.8l2.6,2.6l-2.6,2.6l-2.6,-2.6zM1698.7,376.4l2.6,2.6l-2.6,2.6l-2.6,-2.6zM1698.2,390.4l2.6,2.6l-2.6,2.6l-2.6,-2.6zM1697.6,403.3l2.6,2.6l-2.6,2.6l-2.6,-2.6zM1697.1,415.7l2.6,2.6l-2.6,2.6l-2.6,-2.6zM1696.5,427.6l2.6,2.6l-2.6,2.6l-2.6,-2.6zM1696.0,438.4l2.6,2.6l-2.6,2.6l-2.6,-2.6zM1695.5,448.1l2.6,2.6l-2.6,2.6l-2.6,-2.6zM1694.9,457.8l2.6,2.6l-2.6,2.6l-2.6,-2.6zM1694.4,466.9l2.6,2.6l-2.6,2.6l-2.6,-2.6zM1693.9,472.4l2.6,2.6l-2.6,2.6l-2.6,-2.6zM1693.4,478.2l2.6,2.6l-2.6,2.6l-2.6,-2.6zM1693.1,484.4l2.6,2.6l-2.6,2.6l-2.6,-2.6zM1692.8,490.3l2.6,2.6l-2.6,2.6l-2.6,-2.6z" fill="#3a50a8"/>
<path d="M1692.3,499.4C1692.0,501.3 1691.4,506.4 1690.7,510.7C1690.0,515.0 1688.9,522.1 1688.3,525.3C1687.7,528.5 1687.7,527.8 1687.2,530.0C1686.7,532.2 1685.9,535.6 1685.2,538.3C1684.5,541.0 1683.8,543.4 1683.2,546.2C1682.6,549.0 1682.1,552.3 1681.6,555.0C1681.1,557.7 1680.7,560.2 1680.3,562.3C1679.9,564.3 1679.7,566.1 1679.2,567.3C1678.7,568.5 1678.3,569.5 1677.5,569.4C1676.7,569.3 1675.5,567.8 1674.3,566.6C1673.1,565.4 1671.5,563.9 1670.2,562.3C1668.9,560.6 1667.2,559.4 1666.2,556.7C1665.2,554.0 1665.0,549.3 1664.2,546.2C1663.4,543.1 1662.1,540.8 1661.3,538.1C1660.5,535.4 1659.8,532.9 1659.3,530.0C1658.8,527.1 1658.8,525.0 1658.6,520.5C1658.3,516.0 1658.2,506.2 1657.8,502.7C1657.4,499.2 1656.9,497.8 1656.4,499.4C1656.0,501.0 1655.5,508.3 1655.1,512.4C1654.7,516.5 1654.1,519.1 1653.9,523.7C1653.7,528.3 1653.9,537.2 1653.9,539.9" fill="none" stroke="#3a50a8" stroke-width="4.7" stroke-linejoin="round" stroke-linecap="round" />
<path d="M1652.3,520.3l2.6,2.6l-2.6,2.6l-2.6,-2.6zM1651.8,525.9l2.6,2.6l-2.6,2.6l-2.6,-2.6zM1652.3,544.1l2.6,2.6l-2.6,2.6l-2.6,-2.6zM1652.3,580.5l2.6,2.6l-2.6,2.6l-2.6,-2.6z" fill="#3a50a8"/>
<path d="M1664.5,134.7 H1942.6 V574.4 H1664.5" fill="none" stroke="#c00000" stroke-width="4.7" stroke-dasharray="4.85 5.15"/>
<path d="M1664.5,574.4 V134.7" fill="none" stroke="#c00000" stroke-width="4.7" stroke-dasharray="4.85 5.15"/>
<text x="1849.8" y="556.8" font-size="46" text-anchor="start" fill="#c00000" font-weight="bold" textLength="78.8" lengthAdjust="spacingAndGlyphs" >PRL</text>
</svg>
</body></html>
